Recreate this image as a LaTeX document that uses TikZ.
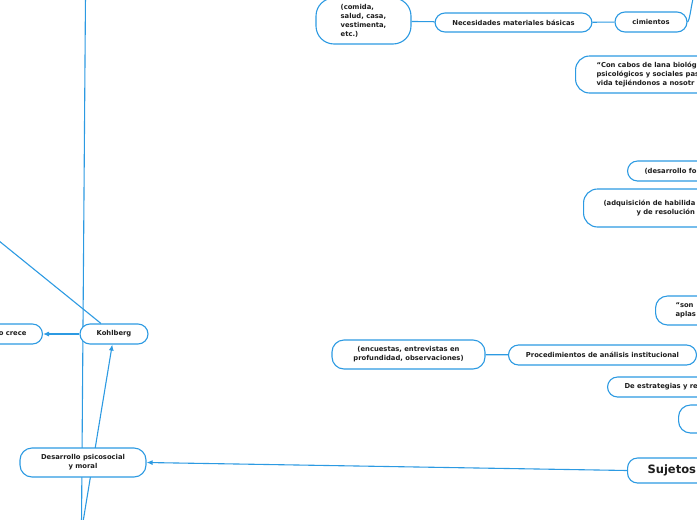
\documentclass[tikz,border=0pt]{standalone}
\usepackage{fontspec}
\setmainfont{DejaVu Sans}
\usetikzlibrary{arrows.meta,backgrounds}
\definecolor{lineblue}{HTML}{2C9AE2}
\definecolor{txt}{HTML}{1E1E1E}
\tikzset{
  box/.style={draw=lineblue, line width=1.1pt, fill=white, rounded corners=10pt,
    text=txt, font=\fontsize{6.8}{8.8}\selectfont\bfseries, inner ysep=0pt},
  cbox/.style={box, align=center, inner xsep=0pt},
  lbox/.style={box, align=left},
  conn/.style={draw=lineblue, line width=1.1pt},
  arr/.style={conn, -{Latex[length=6pt,width=5pt]}}
}
\begin{document}
\begin{tikzpicture}[x=1pt,y=-1pt]
\useasboundingbox (0,0) rectangle (697,520);
\clip (0,0) rectangle (697,520);
% free ends
\coordinate (vt) at (85.5,-5);
\coordinate (vb) at (81.5,525);
\coordinate (sb) at (83,522);
\coordinate (dl) at (-100,160.8);
\coordinate (topr) at (695,-10);
% nodes
\node[cbox, rounded corners=18pt, minimum width=95pt, minimum height=46pt, align=left] (comida) at (363.5,21)
  {(comida,\\salud, casa,\\vestimenta,\\etc.)};
\node[cbox, minimum width=157pt, minimum height=19pt] (neces) at (513.5,22.5) {Necesidades materiales básicas};
\node[cbox, minimum width=72pt, minimum height=20pt] (cimi) at (651,22) {cimientos};
\node[lbox, rounded corners=14pt, anchor=west, inner xsep=21pt, minimum height=37pt] (cabos) at (575,74.5)
  {“Con cabos de lana biológ\\psicológicos y sociales pas\\vida tejiéndonos a nosotr};
\node[lbox, anchor=west, inner xsep=17pt, minimum height=20pt] (desfo) at (627,171) {(desarrollo fo};
\node[lbox, rounded corners=14pt, anchor=west, inner xsep=20pt, minimum height=38pt] (adqui) at (583,208)
  {(adquisición de habilida\\\hspace*{33pt}y de resolución};
\node[lbox, rounded corners=12pt, anchor=west, inner xsep=20pt, minimum height=29pt] (son) at (655,310.5)
  {“son\\aplas};
\node[cbox, minimum width=188pt, minimum height=20pt] (proc) at (602.5,355) {Procedimientos de análisis institucional};
\node[cbox, rounded corners=12pt, minimum width=153pt, minimum height=29pt] (encu) at (408.5,354.5)
  {(encuestas, entrevistas en\\profundidad, observaciones)};
\node[lbox, anchor=west, inner xsep=17pt, minimum height=20pt] (estr) at (607,387) {De estrategias y re};
\node[lbox, rounded corners=12pt, anchor=west, minimum width=60pt, minimum height=28pt] (vacio) at (678,419) {};
\node[lbox, anchor=west, inner xsep=20pt, minimum height=25pt, font=\fontsize{11.5}{13}\selectfont\bfseries] (suje) at (627,470.5) {Sujetos};
\node[cbox, rounded corners=12pt, minimum width=126pt, minimum height=29pt] (desa) at (83,462.5)
  {Desarrollo psicosocial\\y moral};
\node[cbox, minimum width=68pt, minimum height=20pt] (kohl) at (114,334) {Kohlberg};
\node[box, anchor=east, align=right, inner xsep=16pt, minimum height=20pt] (crece) at (43,334) {o crece};
% connectors, behind the boxes
\begin{pgfonlayer}{background}
\clip (0,0) rectangle (697,520);
\draw[conn] (vt) -- (vb);
\draw[conn] (comida) -- (neces);
\draw[conn] (neces) -- (cimi);
\draw[conn] (cimi.east) .. controls (690,20) and (691,5) .. (topr);
\draw[conn] (proc) -- (encu);
\draw[arr] (suje.west) -- (desa.east);
\draw[arr] (kohl) -- (crece);
\draw[arr] (sb) -- (kohl);
\draw[conn] (dl) -- (kohl);
\end{pgfonlayer}
\end{tikzpicture}
\end{document}
